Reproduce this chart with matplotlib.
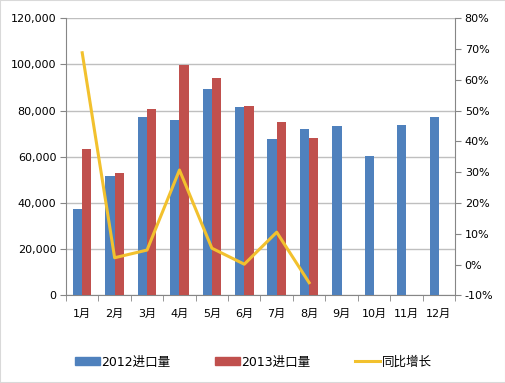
import numpy as np
import matplotlib
matplotlib.use("Agg")
import matplotlib.pyplot as plt
from matplotlib.ticker import FuncFormatter, FixedLocator
from matplotlib.patches import Rectangle
from matplotlib.lines import Line2D

plt.rcParams['font.family'] = ['DejaVu Sans', 'Noto Sans CJK SC']

# data
months = ['1月', '2月', '3月', '4月', '5月', '6月', '7月', '8月', '9月', '10月', '11月', '12月']
imp_2012 = [37400, 51700, 77100, 76100, 89400, 81600, 67700, 72200, 73300, 60300, 73800, 77100]
imp_2013 = [63300, 52900, 80900, 99800, 94300, 81900, 74900, 68300]
growth = [0.688, 0.022, 0.047, 0.307, 0.053, 0.001, 0.105, -0.059]

c_blue = '#4F81BD'
c_red = '#C0504D'
c_line = '#F2C12E'
c_axis = '#868686'
c_grid = '#BFBFBF'

fig = plt.figure(figsize=(5.06, 3.83), dpi=100)
ax = fig.add_axes([66 / 506, 1 - 295.3 / 383, (455 - 66) / 506, (295.3 - 18.3) / 383])

x = np.arange(len(months))
w = 0.285
ax.bar(x[:len(imp_2012)] - w / 2, imp_2012, width=w, color=c_blue, zorder=3)
ax.bar(x[:len(imp_2013)] + w / 2, imp_2013, width=w, color=c_red, zorder=3)

ax.set_xlim(-0.5, len(months) - 0.5)
ax.set_ylim(0, 120000)
ax.set_yticks(np.arange(0, 120001, 20000))
ax.yaxis.set_major_formatter(FuncFormatter(lambda v, p: f'{int(v):,}'))
ax.grid(axis='y', color=c_grid, linewidth=1, zorder=0)
ax.set_axisbelow(True)

ax.set_xticks(x)
ax.set_xticklabels(months)
ax.xaxis.set_minor_locator(FixedLocator(np.arange(-0.5, len(months), 1)))
ax.tick_params(axis='x', which='major', length=0, pad=10, labelsize=8)
ax.tick_params(axis='x', which='minor', length=4, color=c_axis, direction='out')
ax.tick_params(axis='y', length=4, color=c_axis, labelsize=8, pad=3)
for s in ['top', 'right']:
    ax.spines[s].set_visible(False)
for s in ['left', 'bottom']:
    ax.spines[s].set_color(c_axis)

ax2 = ax.twinx()
ax2.plot(x[:len(growth)], growth, color=c_line, linewidth=2.2, zorder=4)
ax2.set_ylim(-0.1, 0.8)
ax2.set_yticks(np.arange(-0.1, 0.801, 0.1))
ax2.yaxis.set_major_formatter(FuncFormatter(lambda v, p: f'{round(v * 100):d}%'))
ax2.tick_params(axis='y', length=4, color=c_axis, labelsize=8, pad=3)
for s in ['top', 'left', 'bottom']:
    ax2.spines[s].set_visible(False)
ax2.spines['right'].set_color(c_axis)

handles = [Rectangle((0, 0), 1, 1, color=c_blue),
           Rectangle((0, 0), 1, 1, color=c_red),
           Line2D([], [], color=c_line, linewidth=2.2)]
fig.legend(handles, ['2012进口量', '2013进口量', '同比增长'], loc='center',
           bbox_to_anchor=(0.5, 1 - 362 / 383), ncol=3, frameon=False,
           fontsize=9, handlelength=2.0, handleheight=0.55, handletextpad=0.1,
           columnspacing=3.6)

fig.patches.append(Rectangle((0, 0), 1, 1, transform=fig.transFigure,
                             fill=False, edgecolor='#D9D9D9', linewidth=1.5))

fig.savefig('out.png', dpi=100)
